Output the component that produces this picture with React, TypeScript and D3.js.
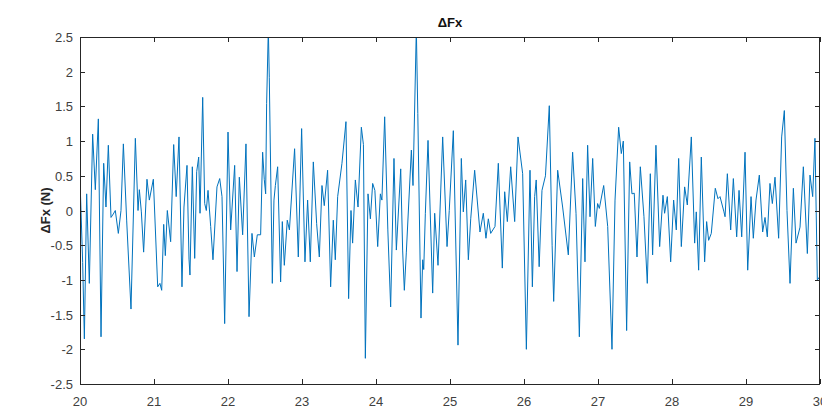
import React, { useEffect, useRef } from 'react';
import * as d3 from 'd3';

// time samples (s), peaks and troughs
const times = [
  20.0, 20.036, 20.059, 20.09, 20.126, 20.171, 20.207, 20.248, 20.284, 20.32, 20.351, 20.383, 20.419, 20.45,
  20.477, 20.518, 20.554, 20.586, 20.631, 20.689, 20.748, 20.784, 20.802, 20.829, 20.86, 20.905, 20.937, 20.991,
  21.05, 21.08, 21.104, 21.131, 21.153, 21.18, 21.225, 21.266, 21.3, 21.338, 21.378, 21.405, 21.446, 21.473,
  21.486, 21.518, 21.55, 21.577, 21.604, 21.622, 21.658, 21.685, 21.707, 21.73, 21.766, 21.797, 21.851, 21.888,
  21.919, 21.955, 22.0, 22.036, 22.09, 22.122, 22.153, 22.198, 22.243, 22.284, 22.324, 22.356, 22.396, 22.441,
  22.468, 22.49, 22.509, 22.522, 22.545, 22.558, 22.599, 22.621, 22.64, 22.671, 22.711, 22.734, 22.761, 22.801,
  22.83, 22.9, 22.95, 22.995, 23.04, 23.076, 23.112, 23.153, 23.198, 23.234, 23.27, 23.301, 23.346, 23.387,
  23.423, 23.45, 23.482, 23.54, 23.594, 23.63, 23.662, 23.684, 23.721, 23.757, 23.802, 23.83, 23.856, 23.892,
  23.924, 23.955, 23.985, 24.023, 24.059, 24.08, 24.117, 24.16, 24.198, 24.243, 24.275, 24.334, 24.36, 24.383,
  24.41, 24.478, 24.5, 24.545, 24.565, 24.608, 24.631, 24.645, 24.667, 24.703, 24.766, 24.793, 24.838, 24.901,
  24.96, 24.99, 25.045, 25.108, 25.153, 25.18, 25.212, 25.248, 25.28, 25.333, 25.405, 25.45, 25.486, 25.518,
  25.55, 25.608, 25.653, 25.707, 25.739, 25.775, 25.82, 25.874, 25.919, 25.982, 26.032, 26.081, 26.113, 26.144,
  26.165, 26.205, 26.243, 26.29, 26.342, 26.38, 26.401, 26.455, 26.522, 26.599, 26.657, 26.703, 26.748, 26.793,
  26.824, 26.86, 26.892, 26.928, 26.964, 26.995, 27.018, 27.077, 27.131, 27.189, 27.23, 27.279, 27.315, 27.342,
  27.387, 27.428, 27.459, 27.49, 27.527, 27.572, 27.621, 27.666, 27.707, 27.738, 27.783, 27.833, 27.878, 27.9,
  27.937, 27.982, 28.022, 28.058, 28.09, 28.126, 28.171, 28.207, 28.261, 28.306, 28.328, 28.36, 28.396, 28.441,
  28.468, 28.495, 28.531, 28.585, 28.621, 28.649, 28.702, 28.717, 28.748, 28.793, 28.829, 28.874, 28.906, 28.942,
  28.987, 29.023, 29.068, 29.099, 29.135, 29.18, 29.225, 29.257, 29.288, 29.324, 29.356, 29.392, 29.441, 29.482,
  29.518, 29.554, 29.595, 29.64, 29.676, 29.73, 29.775, 29.829, 29.865, 29.901, 29.932, 29.964, 30.0,
];

// ΔFx (N) at those times
const forces = [
  0.44, -0.75, -1.85, 0.24, -1.05, 1.1, 0.3, 1.32, -1.82, 0.68, 0.05, 0.94, -0.1, -0.05,
  0.0, -0.33, 0.0, 0.96, -0.15, -1.42, 1.04, 0.0, 0.3, -0.02, -0.6, 0.45, 0.15, 0.45,
  -1.1, -1.05, -1.15, -0.2, -0.65, 0.0, -0.45, 0.95, 0.2, 1.06, -1.1, 0.05, 0.65, -0.7,
  -0.93, 0.63, -0.69, 0.56, 0.77, -0.04, 1.63, 0.1, 0.0, 0.29, -0.23, -0.71, 0.34, 0.46,
  0.2, -1.63, 1.13, -0.28, 0.65, -0.88, 0.48, -0.35, 0.96, -1.53, -0.33, -0.67, -0.35, -0.35,
  0.84, 0.45, 0.24, 1.54, 2.62, 1.92, -1.05, 0.15, 0.36, 0.63, -1.03, -0.16, -0.79, -0.14,
  -0.28, 0.89, -0.67, 1.18, -0.74, 0.15, -0.74, 0.7, -0.19, -0.67, 0.36, 0.07, 0.58, -1.1,
  -0.14, -0.71, 0.2, 0.68, 1.28, -1.27, 0.0, -0.47, 0.44, 0.05, 1.2, 0.95, -2.13, 0.24,
  -0.12, 0.39, 0.29, -0.52, 0.24, 0.15, 1.35, -0.28, -1.39, 0.75, -0.57, 0.6, -0.57, -1.15,
  -0.6, 0.87, 0.36, 2.62, 1.4, -1.55, -0.71, -0.85, -0.04, 1.01, -1.19, -0.04, -0.79, 1.06,
  -0.52, 0.0, 1.15, -1.94, 0.75, -0.02, 0.44, -0.71, -0.12, 0.58, -0.31, -0.04, -0.4, -0.12,
  -0.33, -0.23, 0.68, -0.83, 0.27, -0.16, 0.63, -0.16, 1.06, 0.53, -2.0, 0.58, -1.1, 0.2,
  0.44, -0.81, 0.29, 0.5, 1.51, -0.5, -1.31, 0.58, 0.05, -0.64, 0.84, -0.04, -1.82, 0.46,
  -0.74, 0.94, -0.09, 0.75, -0.23, 0.1, 0.03, 0.36, -0.23, -2.0, 0.15, 1.2, 0.82, 1.0,
  -1.73, 0.7, 0.24, 0.25, -0.67, 0.63, -0.09, -1.05, 0.53, -0.64, 0.94, -0.52, 0.22, -0.04,
  0.2, -0.74, 0.15, -0.28, 0.75, -0.52, 0.34, 0.08, 1.06, -0.47, -0.02, -0.86, 0.77, -0.74,
  -0.16, -0.43, -0.33, 0.32, 0.17, 0.2, -0.02, -0.09, 0.53, -0.28, 0.46, -0.38, 0.29, -0.38,
  0.84, -0.86, 0.2, -0.4, 0.15, 0.51, -0.31, -0.1, -0.38, 0.39, 0.1, 0.48, -0.4, 1.06,
  1.44, 0.0, -1.05, 0.32, -0.47, -0.24, 0.63, -0.62, 0.51, 0.2, 1.04, -1.0, -0.95,
];

const xTicks = [20, 21, 22, 23, 24, 25, 26, 27, 28, 29, 30];
const yTicks = [-2.5, -2, -1.5, -1, -0.5, 0, 0.5, 1, 1.5, 2, 2.5];

const App = () => {
  const ref = useRef<SVGSVGElement>(null);

  useEffect(() => {
    const svg = d3.select(ref.current);
    svg.selectAll('*').remove();

    const width = 822;
    const height = 415;
    const left = 80;
    const right = 820;
    const top = 37;
    const bottom = 384;
    const axisColor = '#262626';
    const labelColor = '#404040';
    const font = '"Liberation Sans", Arial, sans-serif';

    const x = d3.scaleLinear().domain([20, 30]).range([left, right]);
    const y = d3.scaleLinear().domain([-2.5, 2.5]).range([bottom, top]);

    svg.attr('width', width).attr('height', height);

    svg
      .append('defs')
      .append('clipPath')
      .attr('id', 'plot-clip')
      .append('rect')
      .attr('x', left)
      .attr('y', top)
      .attr('width', right - left)
      .attr('height', bottom - top);

    const data = times.map((t, i) => [t, forces[i]] as [number, number]);

    const line = d3
      .line<[number, number]>()
      .x((d) => x(d[0]))
      .y((d) => y(d[1]));

    svg
      .append('path')
      .datum(data)
      .attr('d', line)
      .attr('fill', 'none')
      .attr('stroke', '#0072BD')
      .attr('stroke-width', 1)
      .attr('clip-path', 'url(#plot-clip)');

    // axes box with inward ticks, MATLAB style
    const tickLen = 5;
    const axes = svg.append('g').attr('stroke', axisColor).attr('stroke-width', 1).attr('fill', 'none');
    axes
      .append('rect')
      .attr('x', left + 0.5)
      .attr('y', top + 0.5)
      .attr('width', right - left - 1)
      .attr('height', bottom - top);

    xTicks.forEach((t) => {
      const px = Math.round(x(t)) + 0.5;
      axes.append('line').attr('x1', px).attr('x2', px).attr('y1', bottom).attr('y2', bottom - tickLen);
      axes.append('line').attr('x1', px).attr('x2', px).attr('y1', top).attr('y2', top + tickLen);
    });
    yTicks.forEach((v) => {
      const py = Math.round(y(v)) + 0.5;
      axes.append('line').attr('x1', left).attr('x2', left + tickLen).attr('y1', py).attr('y2', py);
      axes.append('line').attr('x1', right).attr('x2', right - tickLen).attr('y1', py).attr('y2', py);
    });

    svg
      .append('g')
      .selectAll('text')
      .data(xTicks)
      .join('text')
      .attr('x', (d) => x(d))
      .attr('y', bottom + 22)
      .attr('text-anchor', 'middle')
      .attr('font-family', font)
      .attr('font-size', 13)
      .attr('fill', labelColor)
      .text((d) => d);

    svg
      .append('g')
      .selectAll('text')
      .data(yTicks)
      .join('text')
      .attr('x', left - 7)
      .attr('y', (d) => y(d) + 5)
      .attr('text-anchor', 'end')
      .attr('font-family', font)
      .attr('font-size', 13)
      .attr('fill', labelColor)
      .text((d) => d);

    svg
      .append('text')
      .attr('x', (left + right) / 2)
      .attr('y', 27)
      .attr('text-anchor', 'middle')
      .attr('font-family', font)
      .attr('font-size', 13)
      .attr('font-weight', 'bold')
      .attr('fill', '#111')
      .text('ΔFx');

    svg
      .append('text')
      .attr('transform', `translate(50, ${(top + bottom) / 2}) rotate(-90)`)
      .attr('text-anchor', 'middle')
      .attr('font-family', font)
      .attr('font-size', 13)
      .attr('font-weight', 'bold')
      .attr('fill', axisColor)
      .text('ΔFx (N)');
  }, []);

  return <svg ref={ref} style={{ position: 'absolute', left: 0, top: 0, background: '#fff' }} />;
};

export default App;
